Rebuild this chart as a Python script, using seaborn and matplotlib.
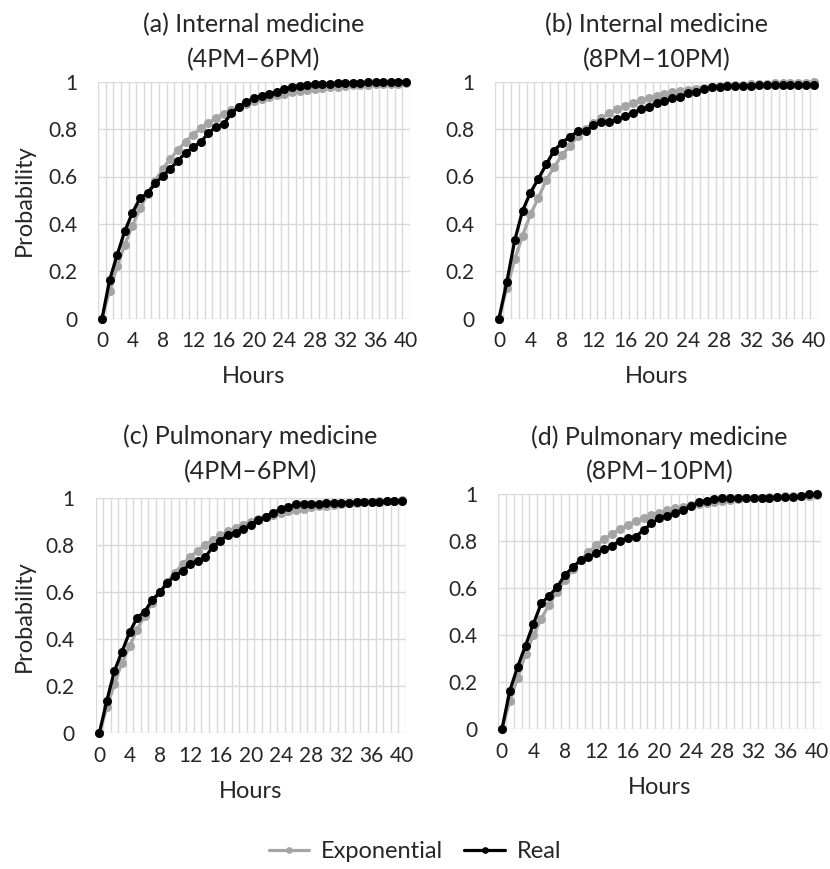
import numpy as np
import pandas as pd
import matplotlib
matplotlib.use("Agg")
import matplotlib.pyplot as plt
from matplotlib.lines import Line2D
import seaborn as sns

sns.set_theme(style="white")
plt.rcParams['font.family'] = ['Lato', 'DejaVu Sans']

hours = list(range(41))

titles = ["(a) Internal medicine\n(4PM\u20136PM)",
          "(b) Internal medicine\n(8PM\u201310PM)",
          "(c) Pulmonary medicine\n(4PM\u20136PM)",
          "(d) Pulmonary medicine\n(8PM\u201310PM)"]

# Panel (a)
real_a = [0, 0.163, 0.27, 0.37, 0.447, 0.508, 0.529, 0.571, 0.602, 0.633,
          0.667, 0.70, 0.723, 0.747, 0.782, 0.81, 0.821, 0.866, 0.894, 0.916,
          0.93, 0.94, 0.948, 0.958, 0.968, 0.979, 0.982, 0.986, 0.99, 0.991,
          0.992, 0.993, 0.994, 0.995, 0.996, 0.997, 0.998, 0.998, 0.999, 0.999, 1.0]
expo_a = [0, 0.118, 0.221, 0.313, 0.393, 0.465, 0.528, 0.583, 0.632, 0.675,
          0.713, 0.747, 0.777, 0.803, 0.826, 0.847, 0.865, 0.881, 0.895, 0.907,
          0.918, 0.928, 0.936, 0.944, 0.950, 0.956, 0.961, 0.966, 0.970, 0.974,
          0.976, 0.979, 0.982, 0.984, 0.986, 0.987, 0.989, 0.990, 0.991, 0.992, 0.993]

# Panel (b)
real_b = [0, 0.155, 0.33, 0.456, 0.532, 0.59, 0.651, 0.709, 0.743, 0.768,
          0.79, 0.79, 0.817, 0.831, 0.831, 0.841, 0.855, 0.869, 0.883, 0.894,
          0.909, 0.918, 0.93, 0.937, 0.951, 0.958, 0.968, 0.976, 0.979, 0.98,
          0.981, 0.982, 0.983, 0.984, 0.985, 0.985, 0.986, 0.986, 0.987, 0.987, 0.988]
expo_b = [0, 0.13, 0.25, 0.35, 0.44, 0.51, 0.585, 0.64, 0.69, 0.73,
          0.77, 0.80, 0.825, 0.847, 0.866, 0.883, 0.898, 0.911, 0.922, 0.932,
          0.941, 0.948, 0.955, 0.961, 0.966, 0.971, 0.975, 0.978, 0.981, 0.984,
          0.986, 0.988, 0.989, 0.991, 0.992, 0.993, 0.994, 0.995, 0.996, 0.996, 0.997]

# Panel (c)
real_c = [0, 0.139, 0.265, 0.347, 0.429, 0.491, 0.517, 0.567, 0.599, 0.64,
          0.669, 0.69, 0.72, 0.734, 0.748, 0.793, 0.817, 0.843, 0.853, 0.867,
          0.885, 0.907, 0.921, 0.938, 0.952, 0.96, 0.973, 0.974, 0.975, 0.976,
          0.977, 0.978, 0.979, 0.98, 0.981, 0.982, 0.983, 0.984, 0.986, 0.987, 0.988]
expo_c = [0, 0.11, 0.21, 0.30, 0.37, 0.44, 0.50, 0.555, 0.60, 0.645,
          0.683, 0.718, 0.749, 0.776, 0.80, 0.822, 0.841, 0.858, 0.873, 0.887,
          0.899, 0.91, 0.92, 0.929, 0.937, 0.944, 0.95, 0.955, 0.96, 0.964,
          0.968, 0.972, 0.975, 0.977, 0.98, 0.982, 0.984, 0.986, 0.987, 0.988, 0.99]

# Panel (d)
real_d = [0, 0.164, 0.266, 0.356, 0.448, 0.535, 0.568, 0.603, 0.656, 0.688,
          0.72, 0.731, 0.748, 0.765, 0.779, 0.802, 0.814, 0.819, 0.847, 0.875,
          0.897, 0.907, 0.921, 0.932, 0.949, 0.965, 0.972, 0.977, 0.982, 0.982,
          0.982, 0.984, 0.985, 0.985, 0.985, 0.986, 0.986, 0.987, 0.99, 0.998, 0.998]
expo_d = [0, 0.12, 0.22, 0.32, 0.40, 0.47, 0.53, 0.585, 0.635, 0.68,
          0.72, 0.752, 0.782, 0.808, 0.831, 0.851, 0.869, 0.885, 0.899, 0.911,
          0.921, 0.93, 0.939, 0.946, 0.952, 0.958, 0.963, 0.967, 0.971, 0.975,
          0.978, 0.981, 0.983, 0.985, 0.987, 0.988, 0.99, 0.991, 0.992, 0.993, 0.994]

panels = [(real_a, expo_a), (real_b, expo_b), (real_c, expo_c), (real_d, expo_d)]

x_ticks = [0, 4, 8, 12, 16, 20, 24, 28, 32, 36, 40]
y_ticks = [0, 0.2, 0.4, 0.6, 0.8, 1]
y_tick_labels = ["0", "0.2", "0.4", "0.6", "0.8", "1"]

GREY = "#A5A5A5"
BLACK = "#000000"
GRID = "#D9D9D9"

W, H = 830, 869
fig = plt.figure(figsize=(W / 100, H / 100), dpi=100)

# axes boxes in pixels: left, top, right, bottom
boxes_px = [
    (98.2, 81.7, 409.8, 318.7),
    (495.0, 81.7, 818.0, 318.7),
    (95.5, 498.0, 405.8, 733.3),
    (498.0, 494.0, 820.6, 729.3),
]
title_pads = [10.5, 10.5, 13.5, 10.5]

FS_TICK = 15
FS_LABEL = 17
FS_TITLE = 18

for i, (box, (real, expo)) in enumerate(zip(boxes_px, panels)):
    l, t, r, b = box
    ax = fig.add_axes([l / W, 1 - b / H, (r - l) / W, (b - t) / H])
    df = pd.DataFrame({
        "Hours": hours + hours,
        "Probability": expo + real,
        "Series": ["Exponential"] * len(hours) + ["Real"] * len(hours),
    })
    sns.lineplot(data=df, x="Hours", y="Probability", hue="Series",
                 palette={"Exponential": GREY, "Real": BLACK},
                 marker="o", markersize=6.5, markeredgewidth=0,
                 linewidth=2.3, ax=ax, legend=False, zorder=3)
    for ln in ax.lines:
        ln.set_clip_on(False)
    ax.set_xlim(-0.5, 40.5)
    ax.set_ylim(0, 1)
    ax.set_xticks(x_ticks)
    ax.set_xticklabels([str(v) for v in x_ticks], fontsize=FS_TICK)
    ax.set_yticks(y_ticks)
    ax.set_yticklabels(y_tick_labels, fontsize=FS_TICK)
    ax.set_xticks(np.arange(-0.5, 41, 1.0), minor=True)
    ax.grid(False)
    ax.grid(True, which="minor", axis="x", color=GRID, linewidth=1.0, zorder=0)
    ax.grid(True, which="major", axis="y", color=GRID, linewidth=1.0, zorder=0)
    ax.tick_params(axis="x", which="both", length=0, pad=9)
    ax.tick_params(axis="y", which="both", length=0, pad=15)
    for s in ax.spines.values():
        s.set_visible(False)
    ax.set_xlabel("Hours", fontsize=FS_LABEL)
    ax.xaxis.set_label_coords(0.5, -(366 - 318.7) / (b - t))
    if i % 2 == 0:
        ax.set_ylabel("Probability", fontsize=FS_LABEL)
        ax.yaxis.set_label_coords(-(l - 35) / (r - l), 0.5)
    else:
        ax.set_ylabel("")
    ax.set_title(titles[i], fontsize=FS_TITLE, pad=title_pads[i], linespacing=1.6)

handles = [Line2D([0], [0], color=GREY, lw=2.3, marker="o", markersize=3.8),
           Line2D([0], [0], color=BLACK, lw=2.3, marker="o", markersize=3.8)]
fig.legend(handles, ["Exponential", "Real"], loc="center",
           bbox_to_anchor=(0.5, 1 - 852 / H), ncol=2, frameon=False,
           fontsize=FS_LABEL, handlelength=1.7, columnspacing=0.9,
           handletextpad=0.5, borderpad=0, borderaxespad=0)

fig.savefig("out.png", dpi=100)
